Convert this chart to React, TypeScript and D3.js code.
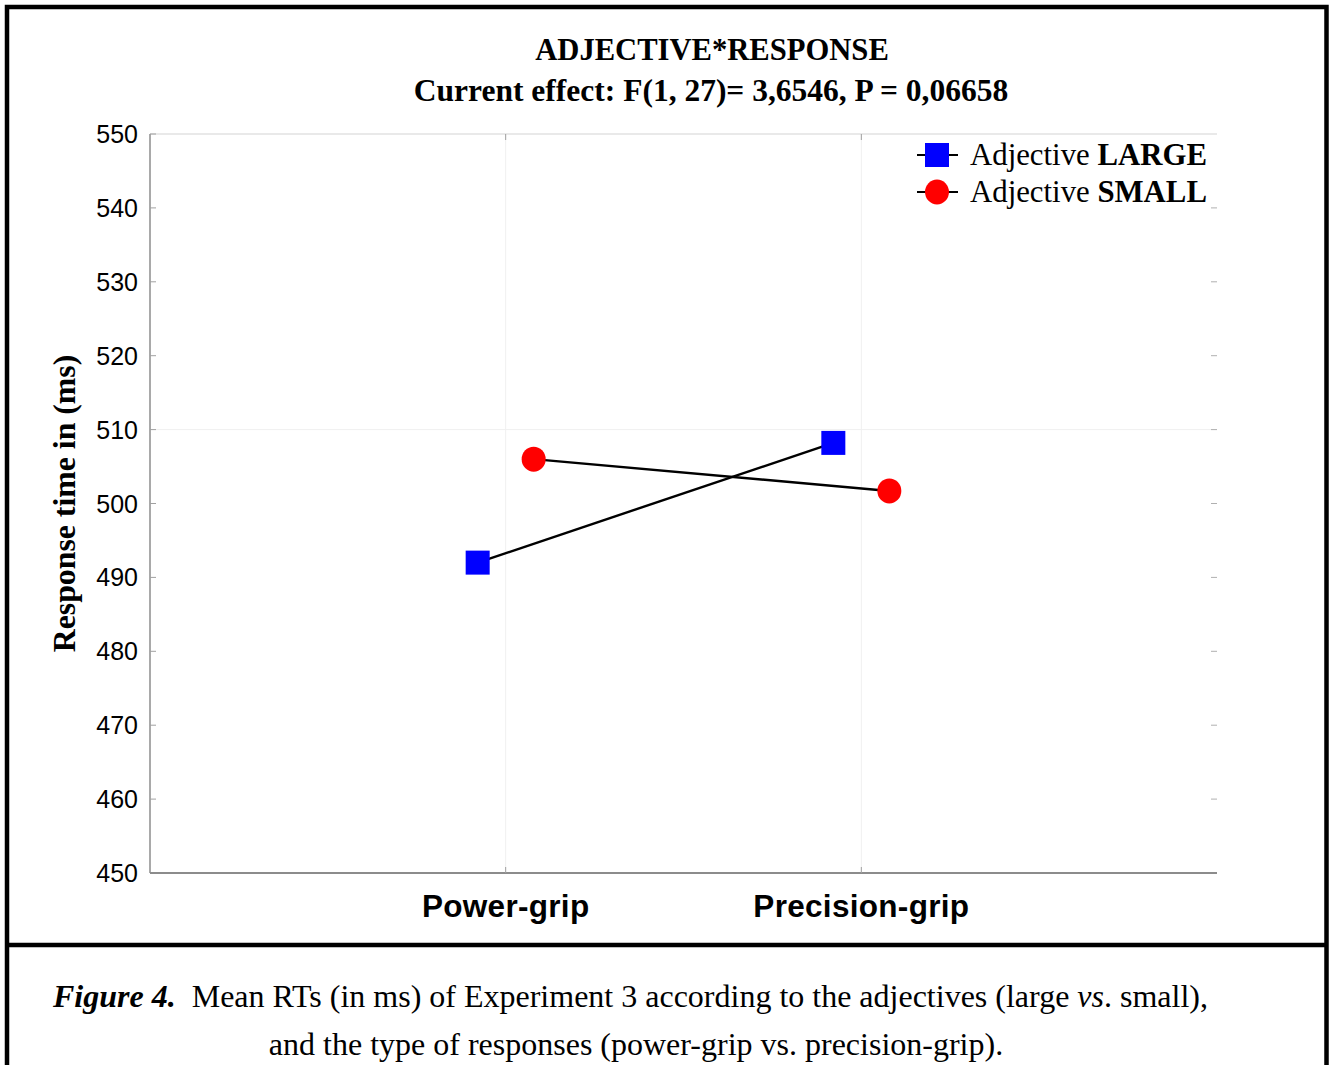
import React, { useEffect, useRef } from 'react';
import * as d3 from 'd3';

// data
const responses = ['Power-grip', 'Precision-grip'];
const largeRT = [492.0, 508.2];
const smallRT = [506.0, 501.7];
const yTicks = [450, 460, 470, 480, 490, 500, 510, 520, 530, 540, 550];

const SERIF = '"Liberation Serif", "Times New Roman", serif';
const SANS = '"Liberation Sans", Arial, sans-serif';

export default function App() {
  const svgRef = useRef<SVGSVGElement>(null);

  useEffect(() => {
    if (!svgRef.current) return;
    const svg = d3.select(svgRef.current);
    svg.selectAll('*').remove();

    const W = 1331;
    const H = 1065;
    const plot = { left: 150, right: 1217, top: 134, bottom: 873 };

    svg.append('rect').attr('width', W).attr('height', H).attr('fill', '#fff');

    // frame
    const frame = svg.append('g').attr('stroke', '#000').attr('stroke-width', 4.5).attr('fill', 'none');
    frame.append('path').attr('d', `M7,${H + 5} V7 H1326.5 V${H + 5}`);
    frame.append('line').attr('x1', 7).attr('x2', 1326.5).attr('y1', 945).attr('y2', 945);

    const x = d3.scalePoint<string>().domain(responses).range([plot.left, plot.right]).padding(1);
    const y = d3.scaleLinear().domain([450, 550]).range([plot.bottom, plot.top]);
    const offset = 28;

    const g = svg.append('g');

    // faint grid
    g.selectAll('line.vgrid')
      .data(responses)
      .enter()
      .append('line')
      .attr('x1', d => x(d)!)
      .attr('x2', d => x(d)!)
      .attr('y1', plot.top)
      .attr('y2', plot.bottom)
      .attr('stroke', '#f0f0f0')
      .attr('stroke-width', 1);
    g.append('line')
      .attr('x1', plot.left)
      .attr('x2', plot.right)
      .attr('y1', y(510))
      .attr('y2', y(510))
      .attr('stroke', '#f0f0f0')
      .attr('stroke-width', 1);

    // top border
    g.append('line')
      .attr('x1', plot.left)
      .attr('x2', plot.right)
      .attr('y1', plot.top)
      .attr('y2', plot.top)
      .attr('stroke', '#e2e2e2')
      .attr('stroke-width', 1.5);

    // left axis
    g.append('line')
      .attr('x1', plot.left)
      .attr('x2', plot.left)
      .attr('y1', plot.top)
      .attr('y2', plot.bottom)
      .attr('stroke', '#8c8c8c')
      .attr('stroke-width', 1.5);
    g.selectAll('line.ltick')
      .data(yTicks)
      .enter()
      .append('line')
      .attr('x1', plot.left)
      .attr('x2', plot.left + 6)
      .attr('y1', d => y(d))
      .attr('y2', d => y(d))
      .attr('stroke', '#a0a0a0')
      .attr('stroke-width', 1);
    g.selectAll('line.rtick')
      .data(yTicks.slice(1, -1))
      .enter()
      .append('line')
      .attr('x1', plot.right - 6)
      .attr('x2', plot.right)
      .attr('y1', d => y(d))
      .attr('y2', d => y(d))
      .attr('stroke', '#b0b0b0')
      .attr('stroke-width', 1);
    g.selectAll('text.ylab')
      .data(yTicks)
      .enter()
      .append('text')
      .attr('x', 138)
      .attr('y', d => y(d) + 9)
      .attr('text-anchor', 'end')
      .attr('font-family', SANS)
      .attr('font-size', 25)
      .attr('fill', '#000')
      .text(d => d);

    // bottom axis
    g.append('line')
      .attr('x1', plot.left)
      .attr('x2', plot.right)
      .attr('y1', plot.bottom)
      .attr('y2', plot.bottom)
      .attr('stroke', '#8c8c8c')
      .attr('stroke-width', 2);
    responses.forEach(r => {
      g.append('line')
        .attr('x1', x(r)!).attr('x2', x(r)!)
        .attr('y1', plot.bottom).attr('y2', plot.bottom - 6)
        .attr('stroke', '#a0a0a0').attr('stroke-width', 1);
      g.append('line')
        .attr('x1', x(r)!).attr('x2', x(r)!)
        .attr('y1', plot.top).attr('y2', plot.top + 6)
        .attr('stroke', '#a0a0a0').attr('stroke-width', 1);
    });
    g.selectAll('text.xlab')
      .data(responses)
      .enter()
      .append('text')
      .attr('x', d => x(d)!)
      .attr('y', 917)
      .attr('text-anchor', 'middle')
      .attr('font-family', SANS)
      .attr('font-weight', 'bold')
      .attr('font-size', 31.5)
      .attr('letter-spacing', 0.3)
      .attr('fill', '#000')
      .text(d => d);

    // axis title
    g.append('text')
      .attr('transform', `translate(75, 503.5) rotate(-90)`)
      .attr('text-anchor', 'middle')
      .attr('font-family', SERIF)
      .attr('font-weight', 'bold')
      .attr('font-size', 31.8)
      .text('Response time in (ms)');

    // titles
    svg.append('text')
      .attr('x', 712).attr('y', 60)
      .attr('text-anchor', 'middle')
      .attr('font-family', SERIF).attr('font-weight', 'bold').attr('font-size', 30.6)
      .text('ADJECTIVE*RESPONSE');
    svg.append('text')
      .attr('x', 711).attr('y', 101)
      .attr('text-anchor', 'middle')
      .attr('font-family', SERIF).attr('font-weight', 'bold').attr('font-size', 31.5)
      .text('Current effect: F(1, 27)= 3,6546, P = 0,06658');

    // series lines
    const line = d3.line<number>()
      .x((_, i) => x(responses[i])!)
      .y(d => y(d));
    g.append('path')
      .attr('d', line.x((_, i) => x(responses[i])! - offset)(largeRT))
      .attr('fill', 'none').attr('stroke', '#000').attr('stroke-width', 2.4);
    g.append('path')
      .attr('d', line.x((_, i) => x(responses[i])! + offset)(smallRT))
      .attr('fill', 'none').attr('stroke', '#000').attr('stroke-width', 2.4);

    const sq = 24;
    g.selectAll('rect.large')
      .data(largeRT)
      .enter()
      .append('rect')
      .attr('x', (_, i) => x(responses[i])! - offset - sq / 2)
      .attr('y', d => y(d) - sq / 2)
      .attr('width', sq)
      .attr('height', sq)
      .attr('fill', '#0000ff');
    g.selectAll('ellipse.small')
      .data(smallRT)
      .enter()
      .append('ellipse')
      .attr('cx', (_, i) => x(responses[i])! + offset)
      .attr('cy', d => y(d))
      .attr('rx', 12)
      .attr('ry', 12.5)
      .attr('fill', '#ff0000');

    // legend
    const legend = svg.append('g');
    const rows = [
      { y: 155, word: 'LARGE', shape: 'square' },
      { y: 192, word: 'SMALL', shape: 'circle' },
    ];
    rows.forEach(r => {
      legend.append('line')
        .attr('x1', 917).attr('x2', 958).attr('y1', r.y).attr('y2', r.y)
        .attr('stroke', '#000').attr('stroke-width', 2.2);
      if (r.shape === 'square') {
        legend.append('rect')
          .attr('x', 937 - sq / 2).attr('y', r.y - sq / 2)
          .attr('width', sq).attr('height', sq).attr('fill', '#0000ff');
      } else {
        legend.append('ellipse')
          .attr('cx', 937).attr('cy', r.y).attr('rx', 12).attr('ry', 12.5).attr('fill', '#ff0000');
      }
      const t = legend.append('text')
        .attr('x', 970).attr('y', r.y + 10)
        .attr('font-family', SERIF).attr('font-size', 30.8);
      t.append('tspan').text('Adjective ');
      t.append('tspan').attr('font-weight', 'bold').text(r.word);
    });

    // caption
    const cap = svg.append('text')
      .attr('x', 53).attr('y', 1007)
      .attr('font-family', SERIF).attr('font-size', 32)
      .attr('xml:space', 'preserve');
    cap.append('tspan').attr('font-weight', 'bold').attr('font-style', 'italic').text('Figure 4.');
    cap.append('tspan').text('  Mean RTs (in ms) of Experiment 3 according to the adjectives (large ');
    cap.append('tspan').attr('font-style', 'italic').text('vs');
    cap.append('tspan').text('. small),');
    svg.append('text')
      .attr('x', 636).attr('y', 1055)
      .attr('text-anchor', 'middle')
      .attr('font-family', SERIF).attr('font-size', 32)
      .text('and the type of responses (power-grip vs. precision-grip).');
  }, []);

  return (
    <svg
      ref={svgRef}
      width={1331}
      height={1065}
      style={{ position: 'absolute', left: 0, top: 0, display: 'block' }}
    />
  );
}
